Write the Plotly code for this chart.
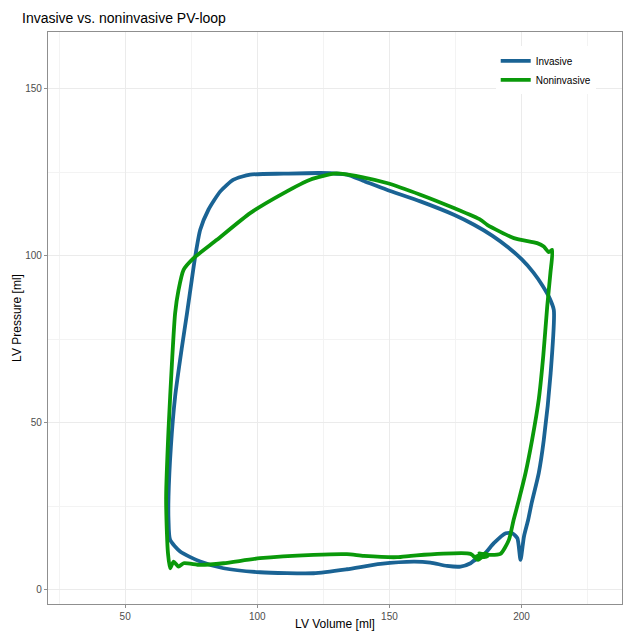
import plotly.graph_objects as go

# Invasive PV-loop (volume ml, pressure)
inv_vol = [199.6, 200.9, 202.5, 203.8, 206.5, 208.4, 211.0, 212.2, 210.5, 208.0, 204.5, 200.0,
           195.0, 189.0, 182.0, 174.4, 161.7, 149.0, 140.0, 133.9, 123.9, 110.0, 97.3,
           91.0, 86.0, 81.5, 78.4, 76.5, 75.2, 73.4, 71.5, 68.9, 67.3, 66.4, 66.4, 67.0, 70.8,
           78.4, 87.2, 101.0, 121.3, 133.9, 146.6, 159.2, 165.5, 171.8, 176.9, 180.7, 183.0,
           181.5, 185.7, 189.5, 194.0, 196.5, 198.4, 199.6]
inv_p = [9.0, 16.0, 21.0, 26.0, 35.0, 44.9, 64.9, 83.8, 87.5, 91.0, 95.0, 99.0,
         102.5, 106.0, 109.3, 112.3, 116.3, 119.8, 122.5, 124.3, 124.8, 124.6, 124.3,
         122.8, 119.3, 113.8, 107.8, 99.8, 92.8, 82.8, 72.8, 57.9, 42.9, 27.9, 21.0, 15.0, 11.5,
         8.5, 6.5, 5.3, 5.0, 6.2, 7.8, 8.5, 8.2, 7.2, 7.0, 8.0, 9.5,
         8.5, 10.5, 14.0, 17.0, 17.0, 15.5, 9.0]

# Noninvasive PV-loop
non_vol = [187.0, 192.0, 195.2, 197.0, 199.0, 201.5, 204.0, 206.5, 208.2, 209.7, 210.9, 211.6,
           210.3, 208.4, 205.9, 197.1, 187.0, 184.5, 174.4, 161.7, 149.0, 140.0, 131.4, 128.9,
           120.0, 110.0, 97.3, 84.7, 75.9, 72.1, 70.2, 68.9, 67.7, 66.4, 65.5, 65.8, 66.2, 67.0,
           68.3, 70.2, 72.1, 78.4, 87.2, 101.0, 121.3, 133.9, 140.3, 152.9, 159.2, 180.7, 183.5,
           186.5, 182.0, 187.0, 184.0, 187.5]
non_p = [10.5, 10.8, 15.0, 21.0, 27.0, 35.0, 45.0, 57.0, 70.0, 84.8, 94.8, 101.8,
         101.1, 102.8, 103.8, 105.3, 109.3, 110.8, 114.3, 118.3, 121.8, 123.5, 124.6, 124.6,
         122.8, 118.8, 112.8, 104.8, 99.3, 95.8, 89.8, 82.8, 67.9, 47.9, 27.9, 17.0, 11.0, 6.5,
         8.5, 7.0, 8.0, 7.5, 8.0, 9.5, 10.5, 10.7, 10.2, 9.8, 10.3, 10.8, 9.0,
         11.0, 9.8, 10.0, 11.0, 10.3]

x_ticks = [50, 100, 150, 200]
y_ticks = [0, 50, 100, 150]

BLUE = "#1a6394"
GREEN = "#0a990a"
FONT = "Liberation Sans, Arial, sans-serif"

fig = go.Figure()
fig.add_trace(go.Scatter(x=inv_vol, y=inv_p, mode="lines", name="Invasive",
                         line=dict(color=BLUE, width=3.8, shape="spline", smoothing=0.6)))
fig.add_trace(go.Scatter(x=non_vol, y=non_p, mode="lines", name="Noninvasive",
                         line=dict(color=GREEN, width=3.8, shape="spline", smoothing=0.6)))

axis_common = dict(
    showgrid=True, gridcolor="#ebebeb", gridwidth=1.1,
    showline=True, linecolor="#8f8f8f", linewidth=1.3, mirror=True,
    ticks="outside", ticklen=3, tickcolor="#8f8f8f", tickwidth=1,
    tickfont=dict(family=FONT, size=10, color="#4d4d4d"),
    zeroline=False, automargin=False,
)

fig.update_layout(
    width=624, height=631,
    margin=dict(l=48, r=2, t=32, b=27),
    paper_bgcolor="white", plot_bgcolor="white",
    title=dict(text="Invasive vs. noninvasive PV-loop", x=22/624, xref="container",
               xanchor="left", y=1-18/631, yref="container", yanchor="middle",
               font=dict(family=FONT, size=14, color="black")),
    xaxis=dict(range=[20.8, 238], tickvals=x_ticks,
               title=dict(text="LV Volume [ml]", standoff=0,
                          font=dict(family=FONT, size=12, color="black")),
               minor=dict(tickvals=[25, 75, 125, 175, 225], showgrid=True,
                          gridcolor="#f3f3f3", gridwidth=0.6, ticks=""),
               **axis_common),
    yaxis=dict(range=[-4.2, 167], tickvals=y_ticks,
               title=dict(text="LV Pressure [ml]", standoff=0,
                          font=dict(family=FONT, size=12, color="black")),
               minor=dict(tickvals=[25, 75, 125], showgrid=True,
                          gridcolor="#f3f3f3", gridwidth=0.6, ticks=""),
               **axis_common),
    legend=dict(x=0.78, y=0.975, xanchor="left", yanchor="top",
                bgcolor="white", borderwidth=0,
                font=dict(family=FONT, size=10, color="black"),
                itemwidth=30, tracegroupgap=4),
)

fig.write_html("out.html", config={"displayModeBar": False},
               post_script="document.body.style.margin='0';")
